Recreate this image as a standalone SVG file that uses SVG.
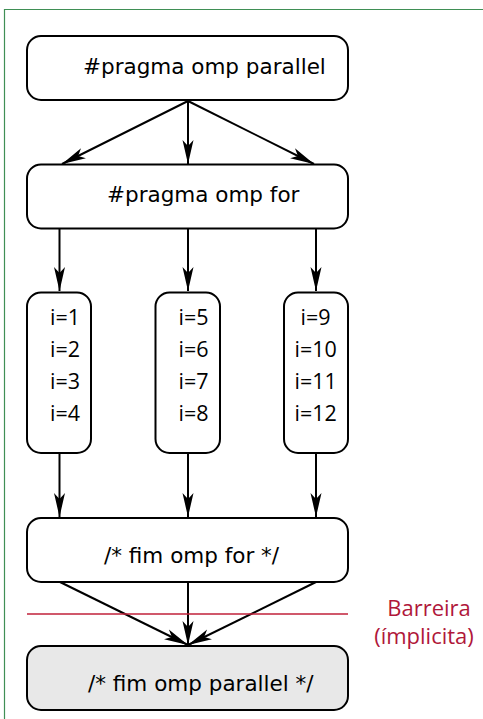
<svg xmlns="http://www.w3.org/2000/svg" width="483" height="719" viewBox="0 0 483 719">
<style>
.box{fill:#fff;stroke:#000;stroke-width:2}
.gray{fill:#e8e8e8}
.t{font-family:"DejaVu Sans",sans-serif;font-size:21.5px;fill:#000}
.i{font-family:"Open Sans","Liberation Sans",sans-serif;font-size:21.5px;font-weight:500;fill:#000}
.r{font-family:"Open Sans","Liberation Sans",sans-serif;font-size:22px;font-weight:500;fill:#b0173a;text-anchor:middle}
.c{stroke:#000;stroke-width:2;fill:none;marker-end:url(#ah)}
</style>
<defs>
<marker id="ah" viewBox="-26 -7 28 14" refX="0" refY="0" markerWidth="28" markerHeight="14" markerUnits="userSpaceOnUse" orient="auto">
<path d="M0,0 L-24,-5.5 L-18,0 L-24,5.5 Z" fill="#000"/>
</marker>
</defs>
<path d="M4.5,719 V9.5 H483" fill="none" stroke="#3f8f55" stroke-width="1.2"/>
<g id="connectors">
<line class="c" x1="188" y1="101" x2="62" y2="164"/>
<line class="c" x1="188" y1="101" x2="188" y2="164"/>
<line class="c" x1="188" y1="101" x2="314" y2="164"/>
<line class="c" x1="59.5" y1="229" x2="59.5" y2="291"/>
<line class="c" x1="188" y1="229" x2="188" y2="291"/>
<line class="c" x1="316" y1="229" x2="316" y2="291"/>
<line class="c" x1="59.5" y1="453" x2="59.5" y2="517"/>
<line class="c" x1="188" y1="453" x2="188" y2="517"/>
<line class="c" x1="316" y1="453" x2="316" y2="517"/>
<line class="c" x1="60" y1="582" x2="188" y2="645"/>
<line class="c" x1="188" y1="582" x2="188" y2="645"/>
<line class="c" x1="316" y1="582" x2="188" y2="645"/>
</g>
<g id="parallel">
<rect class="box" x="27" y="36" width="321" height="64" rx="14"/>
<text class="t" x="83" y="74">#pragma omp parallel</text>
</g>
<g id="for">
<rect class="box" x="27" y="164.5" width="321" height="64" rx="14"/>
<text class="t" x="107" y="202">#pragma omp for</text>
</g>
<g id="t1">
<rect class="box" x="27" y="292.5" width="64" height="160.5" rx="14"/>
<text class="i" x="50" y="324.5">i=1</text>
<text class="i" x="50" y="356.5">i=2</text>
<text class="i" x="50" y="388.5">i=3</text>
<text class="i" x="50" y="420.5">i=4</text>
</g>
<g id="t2">
<rect class="box" x="155.5" y="292.5" width="64.5" height="160.5" rx="14"/>
<text class="i" x="178.5" y="324.5">i=5</text>
<text class="i" x="178.5" y="356.5">i=6</text>
<text class="i" x="178.5" y="388.5">i=7</text>
<text class="i" x="178.5" y="420.5">i=8</text>
</g>
<g id="t3">
<rect class="box" x="284" y="292.5" width="64" height="160.5" rx="14"/>
<text class="i" x="300.5" y="324.5">i=9</text>
<text class="i" x="294.5" y="356.5">i=10</text>
<text class="i" x="294.5" y="388.5">i=11</text>
<text class="i" x="294.5" y="420.5">i=12</text>
</g>
<g id="endfor">
<rect class="box" x="27" y="518" width="321" height="64" rx="14"/>
<text class="t" x="104" y="563">/* fim omp for */</text>
</g>
<g id="endparallel">
<rect class="box gray" x="27" y="646" width="321" height="64" rx="14"/>
<text class="t" x="88" y="691">/* fim omp parallel */</text>
</g>
<g id="barrier">
<line x1="27" y1="614" x2="348" y2="614" stroke="#c0203a" stroke-width="1.5"/>
<text class="r" x="429" y="616">Barreira</text>
<text class="r" x="424" y="644">(ímplicita)</text>
</g>
</svg>
